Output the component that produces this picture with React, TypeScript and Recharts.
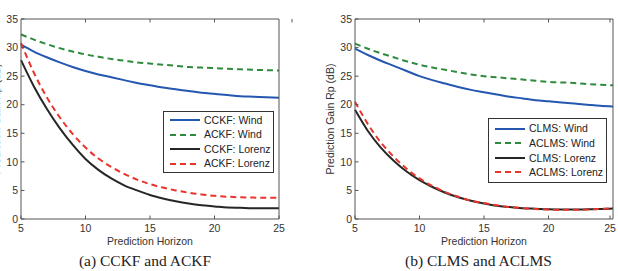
import { LineChart, Line, XAxis, YAxis } from "recharts";

// prediction horizon (x) shared by both panels
const horizon = [5, 6, 7, 8, 9, 10, 11, 12, 13, 14, 15, 16, 17, 18, 19, 20, 21, 22, 23, 24, 25];
const xTicks = [5, 10, 15, 20, 25];
const yTicks = [0, 5, 10, 15, 20, 25, 30, 35];

// (a) CCKF and ACKF
const cckfWind = [30.5, 29.3, 28.3, 27.4, 26.6, 25.9, 25.3, 24.8, 24.3, 23.8, 23.4, 23.0, 22.7, 22.4, 22.1, 21.9, 21.7, 21.5, 21.4, 21.3, 21.2];
const ackfWind = [32.3, 31.4, 30.6, 29.9, 29.3, 28.8, 28.4, 28.0, 27.7, 27.4, 27.2, 27.0, 26.8, 26.6, 26.5, 26.4, 26.3, 26.2, 26.1, 26.05, 26.0];
const cckfLorenz = [27.8, 23.2, 19.3, 15.9, 13.0, 10.5, 8.6, 7.1, 5.9, 5.0, 4.2, 3.6, 3.1, 2.7, 2.4, 2.2, 2.0, 1.95, 1.9, 1.9, 1.9];
const ackfLorenz = [30.8, 25.6, 21.3, 17.8, 14.9, 12.5, 10.6, 9.1, 7.9, 6.9, 6.1, 5.5, 5.0, 4.6, 4.3, 4.05, 3.9, 3.8, 3.75, 3.7, 3.7];

// (b) CLMS and ACLMS
const clmsWind = [29.8, 28.7, 27.7, 26.8, 25.9, 25.0, 24.3, 23.7, 23.1, 22.6, 22.2, 21.8, 21.4, 21.1, 20.8, 20.6, 20.4, 20.2, 20.0, 19.8, 19.7];
const aclmsWind = [30.7, 29.8, 29.0, 28.3, 27.6, 27.0, 26.5, 26.1, 25.7, 25.3, 25.0, 24.8, 24.6, 24.4, 24.2, 24.0, 23.9, 23.8, 23.6, 23.5, 23.4];
const clmsLorenz = [19.1, 15.4, 12.5, 10.2, 8.3, 6.8, 5.6, 4.6, 3.8, 3.2, 2.7, 2.3, 2.1, 1.9, 1.8, 1.7, 1.65, 1.65, 1.7, 1.75, 1.85];
const aclmsLorenz = [20.5, 16.6, 13.4, 10.9, 8.8, 7.1, 5.8, 4.7, 3.9, 3.2, 2.8, 2.4, 2.1, 1.9, 1.75, 1.65, 1.6, 1.6, 1.65, 1.75, 1.9];

const namesA = ["CCKF: Wind", "ACKF: Wind", "CCKF: Lorenz", "ACKF: Lorenz"];
const namesB = ["CLMS: Wind", "ACLMS: Wind", "CLMS: Lorenz", "ACLMS: Lorenz"];

const BLUE = "#2457b0";
const GREEN = "#2e8b3d";
const BLACK = "#262626";
const RED = "#e8342b";
const AXIS = "#555";
const TXT = "#333";
const SANS = "'Liberation Sans', Arial, sans-serif";
const TICK = 3.5;

const styles = [
  { key: "s0", color: BLUE, dash: undefined },
  { key: "s1", color: GREEN, dash: "6 4" },
  { key: "s2", color: BLACK, dash: undefined },
  { key: "s3", color: RED, dash: "6 4" },
];

const dataA = horizon.map((h, i) => ({ h, s0: cckfWind[i], s1: ackfWind[i], s2: cckfLorenz[i], s3: ackfLorenz[i] }));
const dataB = horizon.map((h, i) => ({ h, s0: clmsWind[i], s1: aclmsWind[i], s2: clmsLorenz[i], s3: aclmsLorenz[i] }));

const LeftTick = ({ x, y, payload }: any) => (
  <g>
    <line x1={x} y1={y} x2={x + TICK} y2={y} stroke={AXIS} />
    <text x={x - 3} y={y} dy="0.35em" textAnchor="end" fontSize={10.5} fontFamily={SANS} fill={TXT}>
      {payload.value}
    </text>
  </g>
);
const RightTick = ({ x, y }: any) => <line x1={x} y1={y} x2={x - TICK} y2={y} stroke={AXIS} />;
const TopTick = ({ x, y }: any) => <line x1={x} y1={y} x2={x} y2={y + TICK} stroke={AXIS} />;
const BottomTick = ({ x, y, payload }: any) => (
  <g>
    <line x1={x} y1={y} x2={x} y2={y - TICK} stroke={AXIS} />
    <text x={x} y={y + 13.3} textAnchor="middle" fontSize={10.5} fontFamily={SANS} fill={TXT}>
      {payload.value}
    </text>
  </g>
);

function Panel({ data, left, width, yWidth, rWidth }: any) {
  return (
    <div style={{ position: "absolute", left, top: 0 }}>
      <LineChart width={width} height={250} data={data} margin={{ top: 0, right: 0, bottom: 0, left: 0 }}>
        <XAxis
          dataKey="h"
          type="number"
          domain={[5, 25]}
          ticks={xTicks}
          height={31}
          tickSize={0}
          tickMargin={0}
          padding={{ left: 0, right: 0 }}
          axisLine={{ stroke: AXIS }}
          tick={<BottomTick />}
          label={{ value: "Prediction Horizon", position: "insideBottom", offset: 5.5, fontSize: 10.5, fill: TXT, fontFamily: SANS }}
        />
        <XAxis
          xAxisId="top"
          orientation="top"
          type="number"
          domain={[5, 25]}
          ticks={xTicks}
          height={19}
          tickSize={0}
          tickMargin={0}
          axisLine={{ stroke: AXIS }}
          tick={<TopTick />}
        />
        <YAxis
          type="number"
          domain={[0, 35]}
          ticks={yTicks}
          width={yWidth}
          tickSize={0}
          tickMargin={0}
          axisLine={{ stroke: AXIS }}
          tick={<LeftTick />}
        />
        <YAxis
          yAxisId="right"
          orientation="right"
          type="number"
          domain={[0, 35]}
          ticks={yTicks}
          width={rWidth}
          tickSize={0}
          tickMargin={0}
          axisLine={{ stroke: AXIS }}
          tick={<RightTick />}
        />
        {styles.map((s) => (
          <Line
            key={s.key}
            type="monotone"
            dataKey={s.key}
            stroke={s.color}
            strokeWidth={2}
            strokeDasharray={s.dash}
            dot={false}
            isAnimationActive={false}
          />
        ))}
      </LineChart>
    </div>
  );
}

function LegendBox({ names, left, top, width, height, pad, row }: any) {
  return (
    <div
      style={{
        position: "absolute",
        left,
        top,
        width,
        height,
        boxSizing: "border-box",
        border: `1px solid ${TXT}`,
        background: "#fff",
        paddingTop: pad,
        fontFamily: SANS,
      }}
    >
      {names.map((n: string, i: number) => (
        <div key={n} style={{ height: row, display: "flex", alignItems: "center" }}>
          <svg width={36} height={6} style={{ display: "block" }}>
            <line x1={6} x2={36} y1={3} y2={3} stroke={styles[i].color} strokeWidth={2} strokeDasharray={styles[i].dash} />
          </svg>
          <span style={{ marginLeft: 4, fontSize: 10.5, color: "#222", lineHeight: `${row}px` }}>{n}</span>
        </div>
      ))}
    </div>
  );
}

export default function App() {
  return (
    <div style={{ position: "absolute", left: 0, top: 0, width: 618, height: 271, background: "#fff", overflow: "hidden" }}>
      <Panel data={dataA} left={0} width={300} yWidth={21} rWidth={21} />
      <Panel data={dataB} left={320} width={298} yWidth={35} rWidth={5} />
      <svg width={618} height={271} style={{ position: "absolute", left: 0, top: 0, pointerEvents: "none" }}>
        {/* left panel's y label sits mostly off the page, as in the source figure */}
        <text x={-0.2} y={119} transform="rotate(-90 -0.2 119)" textAnchor="middle" fontSize={10.5} fontFamily={SANS} fill={TXT}>
          Prediction Gain Rp (dB)
        </text>
        <text x={333.5} y={119} transform="rotate(-90 333.5 119)" textAnchor="middle" fontSize={10.5} fontFamily={SANS} fill={TXT}>
          Prediction Gain Rp (dB)
        </text>
        <text x={145} y={265.5} textAnchor="middle" fontSize={15.5} fontFamily="'Liberation Serif', 'Times New Roman', serif" fill="#222">
          (a) CCKF and ACKF
        </text>
        <text x={478.5} y={265.5} textAnchor="middle" fontSize={15.5} fontFamily="'Liberation Serif', 'Times New Roman', serif" fill="#222">
          (b) CLMS and ACLMS
        </text>
      </svg>
      <LegendBox names={namesA} left={163} top={111} width={111} height={62} pad={0.75} row={14.5} />
      <LegendBox names={namesB} left={488} top={118} width={119} height={65} pad={2.2} row={14.67} />
    </div>
  );
}
